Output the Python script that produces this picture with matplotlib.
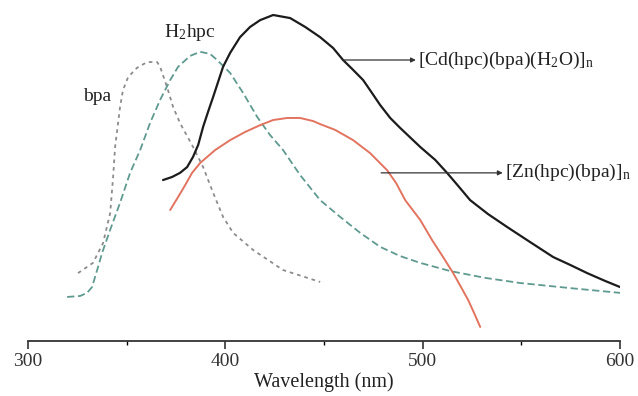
import matplotlib
matplotlib.use('Agg')
import matplotlib.pyplot as plt

# ── Emission spectra (a.u.) ─────────────────────────────────────────────
bpa_wl = [325.3, 332.9, 338.0, 341.6, 343.1, 344.1, 345.6, 346.6, 348.1, 350.7,
          355.2, 360.3, 365.4, 366.9, 370.4, 373.5, 377.0, 383.6, 388.7, 393.8,
          398.8, 403.9, 414.0, 429.2, 448.0]
bpa_i = [19.9, 22.9, 28.7, 37.5, 48.1, 56.9, 63.9, 68.6, 73.6, 77.4,
         80.1, 81.8, 81.8, 80.4, 74.5, 68.6, 63.9, 56.9, 51.0, 43.4,
         36.4, 31.7, 26.7, 20.8, 17.3]

h2hpc_wl = [319.8, 326.4, 329.9, 332.4, 335.0, 337.5, 341.6, 346.6, 351.7, 356.8,
            361.8, 366.9, 372.0, 376.0, 382.1, 387.2, 392.2, 395.8, 402.4, 409.0,
            416.1, 422.6, 429.2, 437.8, 448.0, 458.1, 468.3, 478.4, 488.5, 498.7,
            513.9, 531.6, 549.3, 574.7, 600.0]
h2hpc_i = [12.9, 13.2, 14.1, 15.8, 20.8, 25.8, 32.6, 40.5, 49.3, 56.0,
           63.9, 70.7, 76.5, 80.4, 83.6, 84.8, 84.2, 82.4, 78.6, 72.7,
           65.7, 60.4, 56.0, 48.7, 41.3, 36.4, 31.7, 27.6, 24.9, 22.9,
           20.5, 18.5, 17.0, 15.5, 14.1]

cd_wl = [368.4, 373.0, 377.0, 380.6, 383.6, 386.2, 388.7, 391.2, 393.8, 396.3,
         398.8, 402.4, 407.4, 412.5, 417.6, 424.2, 432.8, 440.4, 448.0, 454.6,
         459.6, 464.7, 469.8, 474.3, 478.4, 483.5, 488.5, 498.7, 506.3, 512.3,
         517.9, 524.0, 533.1, 542.8, 554.4, 566.1, 574.7, 583.3, 592.4, 600.0]
cd_i = [47.2, 48.1, 49.3, 51.0, 54.0, 57.5, 62.8, 67.2, 71.6, 76.0,
        80.4, 84.5, 89.1, 92.1, 94.1, 95.6, 94.7, 92.1, 89.1, 85.9,
        82.4, 79.5, 76.5, 72.7, 69.2, 65.4, 62.5, 56.9, 53.1, 49.3,
        45.5, 41.3, 37.2, 33.4, 29.0, 24.6, 22.3, 19.9, 17.6, 15.8]

zn_wl = [372.0, 376.0, 379.6, 383.1, 387.2, 394.8, 402.4, 410.0, 417.6, 424.2,
         431.3, 437.8, 444.4, 448.0, 455.6, 464.7, 473.3, 481.9, 486.5, 491.1,
         498.7, 504.7, 510.3, 515.4, 519.4, 523.0, 526.0, 529.1]
zn_i = [38.4, 42.2, 45.7, 49.3, 52.2, 56.0, 58.9, 61.3, 63.3, 64.8,
        65.4, 65.4, 64.5, 63.6, 61.9, 58.9, 55.1, 50.1, 46.3, 41.3,
        35.5, 29.6, 24.6, 19.9, 15.8, 12.0, 8.2, 4.1]

xticks_major = [300, 400, 500, 600]
xticks_minor = [350, 450, 550]

plt.rcParams['font.family'] = ['Liberation Serif', 'DejaVu Serif']
plt.rcParams['mathtext.fontset'] = 'stix'

fig = plt.figure(figsize=(6.38, 3.96), dpi=100)
ax = fig.add_axes([0.044, 0.139, 0.928, 0.861])

line_kw = dict(solid_joinstyle='round', solid_capstyle='round', dash_joinstyle='round')
ax.plot(bpa_wl, bpa_i, color='#8c8c8c', lw=1.3, ls=(0, (2.0, 2.2)), **line_kw)
ax.plot(h2hpc_wl, h2hpc_i, color='#5f9a90', lw=1.3, ls=(0, (4.0, 2.0)), **line_kw)
ax.plot(cd_wl, cd_i, color='#1c1c1c', lw=1.6, **line_kw)
ax.plot(zn_wl, zn_i, color='#e2735f', lw=1.4, **line_kw)

# labels on the curves
ax.text(335.0, 71.8, 'bpa', fontsize=14, ha='center', va='center', color='#222222')
ax.text(382.1, 90.6, r'H$_\mathregular{2}$hpc', fontsize=14, ha='center', va='center',
        color='#222222')

# arrows pointing to the complex labels
arrow_kw = dict(arrowstyle='-|>', color='#333333', lw=0.9, mutation_scale=7,
                shrinkA=0, shrinkB=0)
ax.annotate('', xy=(496.5, 82.4), xytext=(459.6, 82.4), arrowprops=arrow_kw)
ax.annotate('', xy=(540.5, 49.3), xytext=(478.9, 49.3), arrowprops=arrow_kw)
ax.text(497.5, 82.4, r'[Cd(hpc)(bpa)(H$_\mathregular{2}$O)]$_\mathregular{n}$',
        fontsize=14, ha='left', va='center', color='#222222')
ax.text(541.5, 49.3, r'[Zn(hpc)(bpa)]$_\mathregular{n}$',
        fontsize=14, ha='left', va='center', color='#222222')

ax.set_xlim(300, 600)
ax.set_ylim(0, 100)
ax.set_xticks(xticks_major)
ax.set_xticks(xticks_minor, minor=True)
ax.set_yticks([])
for side in ['top', 'left', 'right']:
    ax.spines[side].set_visible(False)
ax.spines['bottom'].set_linewidth(1.3)
ax.spines['bottom'].set_color('#333333')
ax.tick_params(axis='x', which='major', length=6, width=1.2, direction='out',
               labelsize=14, pad=3, colors='#333333')
ax.tick_params(axis='x', which='minor', length=3, width=1.0, direction='out')
ax.set_xlabel('Wavelength (nm)', fontsize=14.5, labelpad=1, color='#222222')
ax.patch.set_alpha(0)

fig.savefig('out.png', dpi=100)
